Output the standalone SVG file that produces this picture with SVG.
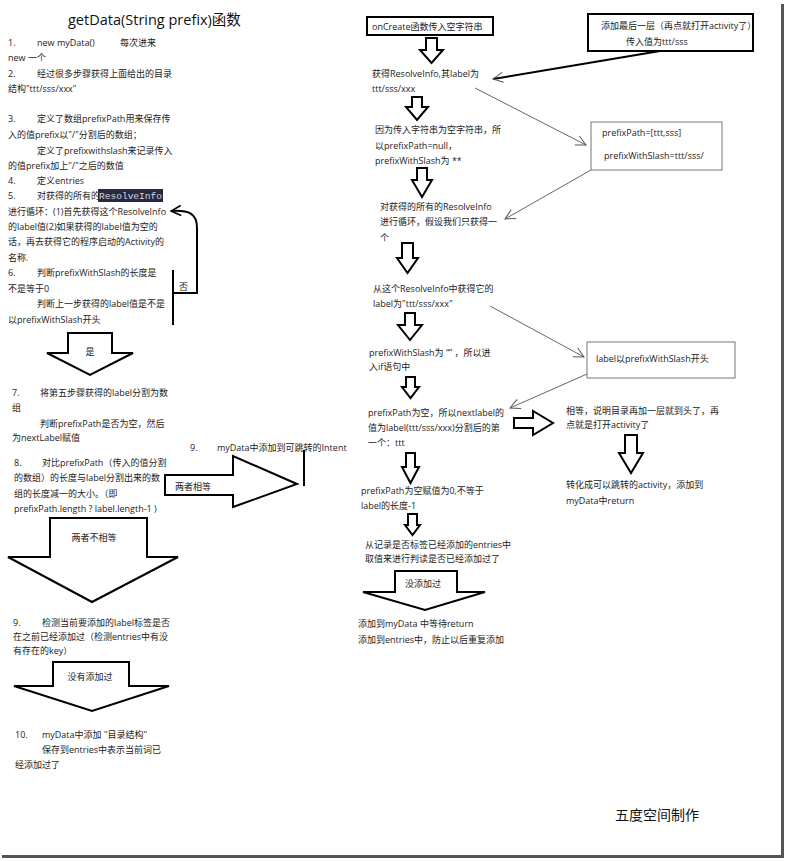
<svg xmlns="http://www.w3.org/2000/svg" width="787" height="861" viewBox="0 0 787 861">
<style>
text{font-family:"Open Sans","Noto Sans CJK SC",sans-serif;font-size:9px;fill:#222;}
.title{font-size:14.5px;fill:#111;}
.sign{font-size:14px;fill:#111;}
.mid{text-anchor:middle;}
.mono{font-family:"Liberation Mono","DejaVu Sans Mono",monospace;fill:#d8d8e8;}
.blk{fill:#fff;stroke:#000;stroke-width:2;stroke-linejoin:miter;}
.hol{fill:#fff;stroke:#000;stroke-width:2;}
.thick{fill:none;stroke:#000;stroke-width:2;}
.thin{fill:none;stroke:#666;stroke-width:1;}
.box2{fill:#fff;stroke:#000;stroke-width:2;}
.box1{fill:#fff;stroke:#777;stroke-width:1;}
</style>
<defs>
<marker id="open" viewBox="0 0 12 12" refX="11" refY="6" markerWidth="12" markerHeight="12" markerUnits="userSpaceOnUse" orient="auto">
<path d="M1,1 L11,6 L1,11" fill="none" stroke="#555" stroke-width="1"/>
</marker>
<marker id="openk" viewBox="0 0 12 12" refX="11" refY="6" markerWidth="12" markerHeight="12" markerUnits="userSpaceOnUse" orient="auto">
<path d="M1,1 L11,6 L1,11" fill="none" stroke="#000" stroke-width="1.6"/>
</marker>
</defs>
<rect x="0" y="0" width="787" height="861" fill="#fff"/>
<!-- frame shadow -->
<line x1="782.5" y1="4" x2="782.5" y2="858" stroke="#555" stroke-width="3"/>
<line x1="2" y1="856.5" x2="784" y2="856.5" stroke="#555" stroke-width="3"/>

<g id="title"><text class="title" x="68" y="25">getData(String prefix)函数</text></g>

<g id="left-steps">
<text x="8" y="46">1.</text><text x="37" y="46">new myData()</text><text x="120" y="46">每次进来</text>
<text x="8" y="61">new 一个</text>
<text x="8" y="77">2.</text><text x="37" y="77">经过很多步骤获得上面给出的目录</text>
<text x="8" y="92">结构"ttt/sss/xxx"</text>
<text x="8" y="122">3.</text><text x="37" y="122">定义了数组prefixPath用来保存传</text>
<text x="8" y="138">入的值prefix以"/"分割后的数组；</text>
<text x="37" y="154">定义了prefixwithslash来记录传入</text>
<text x="8" y="169">的值prefix加上"/"之后的数值</text>
<text x="8" y="184">4.</text><text x="37" y="184">定义entries</text>
<text x="8" y="199">5.</text><text x="37" y="199">对获得的所有的</text>
<rect x="98" y="189" width="65" height="13" fill="#262a3c"/>
<text class="mono" x="99" y="199" textLength="63" lengthAdjust="spacingAndGlyphs">ResolveInfo</text>
<text x="8" y="215">进行循环：(1)首先获得这个ResolveInfo</text>
<text x="8" y="230">的label值(2)如果获得的label值为空的</text>
<text x="8" y="245">话，再去获得它的程序启动的Activity的</text>
<text x="8" y="261">名称.</text>
<text x="8" y="276">6.</text><text x="37" y="276">判断prefixWithSlash的长度是</text>
<text x="8" y="292">不是等于0</text>
<text x="37" y="307">判断上一步获得的label值是不是</text>
<text x="8" y="323">以prefixWithSlash开头</text>
</g>

<g id="left-step7">
<text x="12" y="396">7.</text><text x="40" y="396">将第五步骤获得的label分割为数</text>
<text x="12" y="411">组</text>
<text x="40" y="427">判断prefixPath是否为空，然后</text>
<text x="12" y="441">为nextLabel赋值</text>
</g>
<g id="left-step8">
<text x="14" y="466">8.</text><text x="42" y="466">对比prefixPath（传入的值分割</text>
<text x="14" y="481">的数组）的长度与label分割出来的数</text>
<text x="14" y="497">组的长度减一的大小。（即</text>
<text x="14" y="512">prefixPath.length ? label.length-1 )</text>
</g>
<g id="left-step9a">
<text x="190" y="451">9.</text><text x="217" y="451">myData中添加到可跳转的Intent</text>
</g>
<g id="left-step9b">
<text x="13" y="626">9.</text><text x="42" y="626">检测当前要添加的label标签是否</text>
<text x="13" y="640">在之前已经添加过（检测entries中有没</text>
<text x="13" y="654">有存在的key）</text>
</g>
<g id="left-step10">
<text x="15" y="738">10.</text><text x="42" y="738">myData中添加 "目录结构"</text>
<text x="42" y="753">保存到entries中表示当前词已</text>
<text x="15" y="768">经添加过了</text>
</g>

<g id="mid-oncreate">
<rect class="box2" x="367" y="17" width="126" height="18"/>
<text x="372" y="29.5">onCreate函数传入空字符串</text>
</g>
<g id="mid-t1"><text x="372" y="77">获得ResolveInfo,其label为</text><text x="372" y="92">ttt/sss/xxx</text></g>
<g id="mid-t2"><text x="375" y="133">因为传入字符串为空字符串，所</text><text x="375" y="149">以prefixPath=null，</text><text x="375" y="164">prefixWithSlash为 **</text></g>
<g id="mid-t3"><text x="380" y="210">对获得的所有的ResolveInfo</text><text x="380" y="225">进行循环，假设我们只获得一</text><text x="380" y="241">个</text></g>
<g id="mid-t4"><text x="373" y="292">从这个ResolveInfo中获得它的</text><text x="373" y="307">label为"ttt/sss/xxx"</text></g>
<g id="mid-t5"><text x="369" y="356">prefixWithSlash为 “” ，所以进</text><text x="369" y="370">入if语句中</text></g>
<g id="mid-t6"><text x="368" y="416">prefixPath为空，所以nextlabel的</text><text x="368" y="431">值为label(ttt/sss/xxx)分割后的第</text><text x="368" y="446">一个：ttt</text></g>
<g id="mid-t7"><text x="361" y="494">prefixPath为空赋值为0,不等于</text><text x="361" y="509">label的长度-1</text></g>
<g id="mid-t8"><text x="365" y="548">从记录是否标签已经添加的entries中</text><text x="365" y="562">取值来进行判读是否已经添加过了</text></g>
<g id="mid-t9"><text x="358" y="627">添加到myData 中等待return</text><text x="358" y="643">添加到entries中，防止以后重复添加</text></g>

<g id="right-lastlayer">
<rect class="box2" x="588" y="14" width="165" height="37"/>
<text x="601" y="29">添加最后一层（再点就打开activity了）</text>
<text x="626" y="45">传入值为ttt/sss</text>
</g>
<g id="right-prefixpath">
<rect class="box1" x="591" y="122" width="131" height="48"/>
<text x="602" y="136">prefixPath=[ttt,sss]</text>
<text x="604" y="159">prefixWithSlash=ttt/sss/</text>
</g>
<g id="right-labelstart">
<rect class="box1" x="587" y="342" width="148" height="36"/>
<text x="596" y="362">label以prefixWithSlash开头</text>
</g>
<g id="right-equal"><text x="566" y="414">相等，说明目录再加一层就到头了，再</text><text x="566" y="428">点就是打开activity了</text></g>
<g id="right-return"><text x="566" y="488">转化成可以跳转的activity，添加到</text><text x="566" y="504">myData中return</text></g>
<g id="sign"><text class="sign" x="615" y="820">五度空间制作</text></g>

<g id="connectors">
<!-- left block arrows -->
<polygon class="blk" points="68,333 112,333 112,353 133,353 90,375 47,353 68,353"/>
<text class="mid" x="90" y="355">是</text>
<polygon class="blk" points="165,475 233,475 233,456 297,484 233,507 233,495 165,495"/>
<text x="175" y="490">两者相等</text>
<polygon class="blk" points="50,518 147,518 147,557 178,557 92,602 8,557 50,557"/>
<text class="mid" x="94" y="541">两者不相等</text>
<polygon class="blk" points="53,662 129,662 129,686 169,686 92,711 14,686 53,686"/>
<text class="mid" x="90" y="680">没有添加过</text>
<polygon class="blk" points="395,571 457,571 457,592 485,592 425,610 363,592 395,592"/>
<text class="mid" x="423" y="587">没添加过</text>
<!-- loop back "否" -->
<path class="thick" d="M173,270 L173,325 M173,293 L197,293 L197,228 C197,214 190,210 171,211" marker-end="url(#openk)"/>
<text x="179" y="290">否</text>
<line class="thick" x1="304" y1="450" x2="304" y2="486"/>
<!-- middle hollow arrows -->
<polygon class="hol" points="426,38 437,38 437,50 443,50 431.5,63 420,50 426,50"/>
<polygon class="hol" points="412,97 422,97 422,107 428,107 417,120 406,107 412,107"/>
<polygon class="hol" points="417,168 427,168 427,180 432,180 422,197 412,180 417,180"/>
<polygon class="hol" points="402,243 413,243 413,258 418,258 407.5,273 397,258 402,258"/>
<polygon class="hol" points="405,313 415,313 415,325 422,325 410,340 398,325 405,325"/>
<polygon class="hol" points="406,377 415,377 415,387 419,387 410.5,398 402,387 406,387"/>
<polygon class="hol" points="406,453 415,453 415,467 419,467 410.5,483 402,467 406,467"/>
<polygon class="hol" points="408,514 417,514 417,525 420,525 412.5,535 405,525 408,525"/>
<polygon class="hol" points="625,435 637,435 637,453 643,453 631,473 619,453 625,453"/>
<polygon class="hol" points="514,418 533,418 533,411 553,423 533,435 533,428 514,428"/>
<!-- pointer lines -->
<line x1="660" y1="51" x2="493" y2="79" stroke="#000" stroke-width="2" marker-end="url(#open)"/>
<line class="thin" x1="475" y1="88" x2="586" y2="145" marker-end="url(#open)"/>
<line class="thin" x1="591" y1="170" x2="505" y2="219" marker-end="url(#open)"/>
<line class="thin" x1="490" y1="306" x2="584" y2="357" marker-end="url(#open)"/>
<line class="thin" x1="587" y1="374" x2="510" y2="408" marker-end="url(#open)"/>
</g>
</svg>
